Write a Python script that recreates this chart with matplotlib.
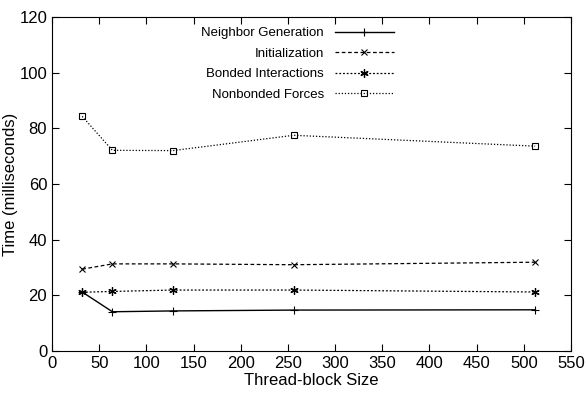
import matplotlib
matplotlib.use("Agg")
import matplotlib.pyplot as plt

plt.rcParams['font.family'] = ['Liberation Sans', 'DejaVu Sans']

# data
block_size = [32, 64, 128, 256, 512]
neighbor_gen = [21.2, 14.1, 14.4, 14.7, 14.8]
initialization = [29.4, 31.3, 31.3, 31.0, 31.9]
bonded = [21.1, 21.4, 21.9, 21.9, 21.2]
nonbonded = [84.3, 72.1, 72.0, 77.5, 73.6]

fig = plt.figure(figsize=(5.87, 4.05), dpi=100)
ax = fig.add_axes([52/587, 1 - 351/405, (571 - 52)/587, (351 - 17)/405])

ax.plot(block_size, neighbor_gen, 'k-', lw=1, marker='+', ms=6, mew=0.8,
        label='Neighbor Generation')
ax.plot(block_size, initialization, color='k', ls=(0, (3, 2)), lw=0.9, marker='x',
        ms=5, mew=0.8, label='Initialization')
ax.plot(block_size, bonded, color='k', ls=(0, (1.5, 1.5)), lw=0.9, marker=(6, 2, 0),
        ms=6, mew=0.9, label='Bonded Interactions')
ax.plot(block_size, nonbonded, color='k', ls=(0, (1, 1.5)), lw=0.9, marker='s',
        ms=5, mew=0.8, mfc='none', label='Nonbonded Forces')

ax.set_xlim(0, 550)
ax.set_ylim(0, 120)
ax.set_xticks(range(0, 551, 50))
ax.set_yticks(range(0, 121, 20))
ax.tick_params(direction='in', top=True, right=True, labelsize=12, length=5, width=0.8)
for s in ax.spines.values():
    s.set_linewidth(0.8)

ax.set_xlabel('Thread-block Size', fontsize=12)
ax.set_ylabel('Time (milliseconds)', fontsize=12)
ax.xaxis.set_label_coords(0.5, -0.065)
ax.yaxis.set_label_coords(-0.066, 0.5)

ax.legend(loc='upper left', bbox_to_anchor=(0.265, 1.005), frameon=False, markerfirst=False,
          fontsize=9.5, handlelength=4.5, labelspacing=0.62, handletextpad=0.8)
leg = ax.get_legend()
for t in leg.get_texts():
    t.set_ha('right')
leg._legend_box.align = 'right'

fig.savefig('out.png', dpi=100)
